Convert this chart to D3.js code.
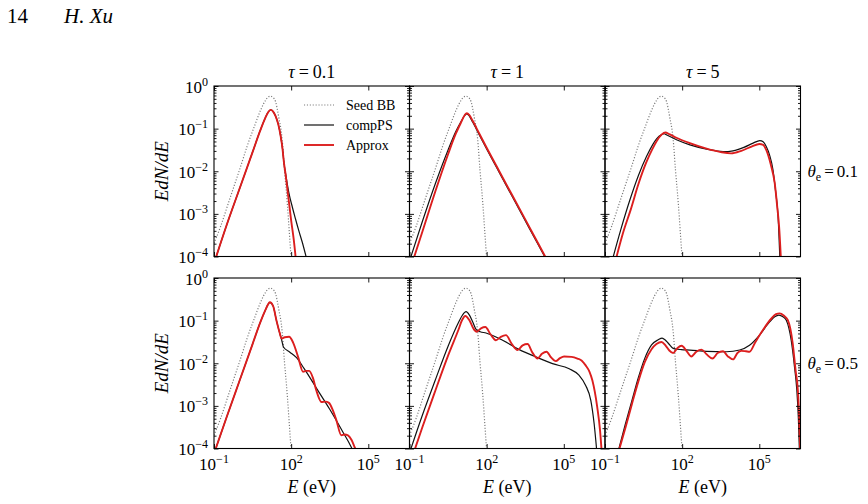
<!DOCTYPE html>
<html><head><meta charset="utf-8">
<script src="https://cdn.jsdelivr.net/npm/d3@7"></script>
<style>
body{margin:0;background:#fff;}
svg{display:block;}
svg text{font-family:"Liberation Serif","Times New Roman",Times,serif;fill:#000;}
</style>
</head><body>
<svg id="chart" width="868" height="504" font-family="Liberation Serif, Times New Roman, serif"></svg>
<script>
// ---------- labels / ticks ----------
const tauLabels = ["0.1", "1", "5"];
const thetaLabels = ["0.1", "0.5"];
const xTickValues = [0.1, 100, 1e5];
const xTickExps = ["\u22121", "2", "5"];
const yTickValues = [1, 0.1, 0.01, 0.001, 0.0001];
const yTickExps = ["0", "\u22121", "\u22122", "\u22123", "\u22124"];
const legendLabels = ["Seed BB", "compPS", "Approx"];

// ---------- data: [log10 E (eV), log10 EdN/dE] ----------
const seedBB = [[-1,-3.69],[-0.74,-3.29],[-0.48,-2.82],[-0.22,-2.35],[0.04,-1.88],[0.29,-1.41],[0.55,-0.98],[0.81,-0.57],[1.0,-0.34],[1.1,-0.26],[1.2,-0.24],[1.3,-0.27],[1.39,-0.36],[1.52,-0.74],[1.65,-1.25],[1.74,-1.96],[1.85,-2.75],[1.94,-3.53],[2.0,-4.05]];

// theta_e = 0.1
const compPS_tau01_th01 = [[-0.94,-4.05],[-0.5,-3.25],[0,-2.40],[0.5,-1.55],[0.8,-1.04],[1.0,-0.74],[1.1,-0.62],[1.2,-0.56],[1.3,-0.6],[1.39,-0.70],[1.5,-0.9],[1.59,-1.17],[1.66,-1.45],[1.72,-1.8],[1.79,-2.08],[1.85,-2.3],[1.91,-2.5],[2.05,-2.85],[2.17,-3.12],[2.3,-3.4],[2.43,-3.66],[2.6,-4.05]];
const approx_tau01_th01 = [[-0.94,-4.05],[-0.5,-3.25],[0,-2.40],[0.5,-1.55],[0.8,-1.04],[1.0,-0.74],[1.1,-0.62],[1.2,-0.56],[1.3,-0.6],[1.39,-0.70],[1.5,-0.9],[1.59,-1.17],[1.66,-1.45],[1.72,-1.8],[1.79,-2.1],[1.85,-2.4],[1.93,-2.8],[2.0,-3.15],[2.1,-3.6],[2.18,-4.05]];

const compPS_tau1_th01 = [[-0.97,-4.05],[-0.5,-3.18],[0,-2.3],[0.5,-1.5],[0.8,-1.07],[1.0,-0.84],[1.15,-0.69],[1.23,-0.655],[1.32,-0.7],[1.45,-0.84],[1.7,-1.13],[2,-1.48],[2.5,-2.04],[3,-2.6],[3.5,-3.16],[4,-3.72],[4.3,-4.05]];
const approx_tau1_th01 = [[-0.84,-4.05],[-0.5,-3.42],[0,-2.48],[0.5,-1.6],[0.8,-1.12],[1.0,-0.86],[1.15,-0.68],[1.23,-0.64],[1.32,-0.68],[1.45,-0.81],[1.7,-1.1],[2,-1.45],[2.5,-2.01],[3,-2.57],[3.5,-3.13],[4,-3.69],[4.32,-4.05]];

const compPS_tau5_th01 = [[-0.70,-4.05],[-0.4,-3.4],[-0.03,-2.67],[0.3,-2.1],[0.617,-1.65],[0.85,-1.38],[1.005,-1.24],[1.2,-1.14],[1.3,-1.12],[1.4,-1.15],[1.78,-1.26],[2.3,-1.38],[2.95,-1.48],[3.59,-1.54],[3.98,-1.52],[4.4,-1.44],[4.76,-1.34],[5.02,-1.28],[5.15,-1.31],[5.27,-1.42],[5.4,-1.62],[5.53,-1.96],[5.63,-2.45],[5.73,-3.06],[5.80,-4.05]];
const approx_tau5_th01 = [[-0.57,-4.05],[-0.3,-3.45],[0,-2.9],[0.3,-2.3],[0.6,-1.8],[0.85,-1.47],[1.0,-1.30],[1.2,-1.14],[1.35,-1.09],[1.5,-1.13],[1.8,-1.22],[2.3,-1.34],[2.95,-1.47],[3.5,-1.55],[3.9,-1.58],[4.3,-1.52],[4.7,-1.42],[5.0,-1.36],[5.15,-1.38],[5.27,-1.50],[5.45,-1.85],[5.6,-2.28],[5.7,-2.85],[5.77,-3.3],[5.84,-4.05]];

// theta_e = 0.5
const compPS_tau01_th05 = [[-0.96,-4.05],[-0.5,-3.25],[0,-2.40],[0.5,-1.55],[0.8,-1.04],[1.0,-0.75],[1.1,-0.62],[1.17,-0.57],[1.3,-0.66],[1.43,-1.0],[1.55,-1.28],[1.63,-1.45],[1.70,-1.62],[1.95,-1.74],[2.21,-1.87],[2.5,-2.12],[3.0,-2.6],[3.5,-3.08],[4.0,-3.6],[4.34,-3.97],[4.4,-4.05]];
const approx_tau01_th05 = [[-0.96,-4.05],[-0.5,-3.25],[0,-2.40],[0.5,-1.55],[0.8,-1.04],[1.0,-0.75],[1.1,-0.62],[1.17,-0.57],[1.3,-0.66],[1.43,-1.0],[1.55,-1.28],[1.63,-1.42],[1.75,-1.39],[1.92,-1.38],[2.08,-1.52],[2.27,-1.85],[2.46,-2.20],[2.58,-2.18],[2.70,-2.18],[2.85,-2.35],[2.98,-2.64],[3.18,-2.91],[3.33,-2.90],[3.47,-2.93],[3.62,-3.1],[3.76,-3.34],[3.95,-3.69],[4.08,-3.67],[4.21,-3.69],[4.35,-3.8],[4.47,-3.97],[4.56,-4.1]];

const compPS_tau1_th05 = [[-0.97,-4.05],[-0.5,-3.22],[0,-2.4],[0.5,-1.6],[0.9,-1.05],[1.05,-0.88],[1.2,-0.79],[1.33,-0.87],[1.45,-1.02],[1.61,-1.22],[1.75,-1.26],[1.975,-1.29],[2.62,-1.46],[3.27,-1.68],[3.91,-1.85],[4.56,-2.01],[5.21,-2.13],[5.59,-2.28],[5.85,-2.52],[6.05,-2.87],[6.18,-3.42],[6.28,-4.05]];
const approx_tau1_th05 = [[-0.81,-4.05],[-0.5,-3.5],[0,-2.65],[0.5,-1.82],[0.9,-1.22],[1.05,-0.98],[1.17,-0.89],[1.33,-0.99],[1.48,-1.18],[1.61,-1.26],[1.78,-1.18],[1.95,-1.15],[2.15,-1.32],[2.36,-1.46],[2.55,-1.38],[2.75,-1.34],[2.98,-1.55],[3.20,-1.69],[3.40,-1.58],[3.59,-1.55],[3.78,-1.75],[3.98,-1.89],[4.15,-1.78],[4.33,-1.73],[4.50,-1.86],[4.69,-1.95],[4.85,-1.88],[5.01,-1.84],[5.3,-1.85],[5.53,-1.89],[5.7,-1.94],[5.85,-2.05],[6.0,-2.2],[6.11,-2.40],[6.30,-3.03],[6.41,-3.58],[6.47,-4.05]];

const compPS_tau5_th05 = [[-0.48,-4.05],[-0.22,-3.45],[0.035,-2.90],[0.29,-2.35],[0.55,-1.88],[0.81,-1.57],[1.07,-1.45],[1.22,-1.41],[1.35,-1.46],[1.46,-1.53],[1.65,-1.65],[1.97,-1.68],[2.3,-1.69],[2.95,-1.72],[3.72,-1.73],[4.24,-1.69],[4.62,-1.58],[5.01,-1.34],[5.4,-1.03],[5.6,-0.91],[5.76,-0.87],[5.92,-0.91],[6.05,-0.99],[6.24,-1.46],[6.37,-2.09],[6.46,-2.64],[6.52,-3.3],[6.56,-4.05]];
const approx_tau5_th05 = [[-0.46,-4.05],[-0.2,-3.5],[0.05,-2.95],[0.3,-2.42],[0.55,-1.97],[0.81,-1.67],[1.0,-1.55],[1.2,-1.50],[1.35,-1.58],[1.5,-1.70],[1.65,-1.76],[1.82,-1.64],[1.98,-1.59],[2.18,-1.72],[2.36,-1.84],[2.55,-1.73],[2.75,-1.68],[2.95,-1.79],[3.18,-1.89],[3.38,-1.76],[3.59,-1.72],[3.78,-1.84],[3.98,-1.91],[4.15,-1.76],[4.30,-1.71],[4.48,-1.72],[4.62,-1.73],[4.85,-1.5],[5.14,-1.22],[5.47,-0.95],[5.65,-0.85],[5.79,-0.83],[5.95,-0.88],[6.11,-0.99],[6.30,-1.54],[6.41,-2.16],[6.50,-2.64],[6.55,-3.3],[6.59,-4.05]];

const panels = [
  [compPS_tau01_th01, approx_tau01_th01], [compPS_tau1_th01, approx_tau1_th01], [compPS_tau5_th01, approx_tau5_th01],
  [compPS_tau01_th05, approx_tau01_th05], [compPS_tau1_th05, approx_tau1_th05], [compPS_tau5_th05, approx_tau5_th05]
];

// ---------- layout ----------
const FONT = "Liberation Serif, Times New Roman, serif";
const colLeft = [214, 409.5, 605], W = 195.5;
const rowTop = [86, 278], H = 170.5;
const RED = "#dc1e1e", GRAY = "#7a7a7a";

const svg = d3.select("#chart");
const x = d3.scaleLog().domain([0.1, 4e6]).range([0, W]);
const y = d3.scaleLog().domain([1e-4, 1]).range([H, 0]);
const line = d3.line().x(d => x(Math.pow(10, d[0]))).y(d => y(Math.pow(10, d[1]))).curve(d3.curveMonotoneX);

const minorY = [];
[1e-4, 1e-3, 1e-2, 1e-1].forEach(b => { for (let k = 2; k <= 9; k++) minorY.push(b * k); });

svg.append("defs").append("clipPath").attr("id", "clip")
  .append("rect").attr("x", 0).attr("y", 0).attr("width", W).attr("height", H);

function txt(parent) { return parent.append("text").attr("font-family", FONT); }
function sup(sel, base, exp, fs) {
  sel.append("tspan").text(base);
  sel.append("tspan").attr("dy", -7).attr("font-size", fs).text(exp);
}

panels.forEach((pd, i) => {
  const r = Math.floor(i / 3), c = i % 3;
  const g = svg.append("g").attr("transform", `translate(${colLeft[c]},${rowTop[r]})`);
  const cg = g.append("g").attr("clip-path", "url(#clip)");
  cg.append("path").attr("d", line(seedBB)).attr("fill", "none").attr("stroke", GRAY)
    .attr("stroke-width", 1.2).attr("stroke-dasharray", "1.1,1.8");
  cg.append("path").attr("d", line(pd[0])).attr("fill", "none").attr("stroke", "#111").attr("stroke-width", 1.2);
  cg.append("path").attr("d", line(pd[1])).attr("fill", "none").attr("stroke", RED).attr("stroke-width", 1.9);

  // ticks (inward) via d3 axes
  const yMaj = (ax) => ax.tickValues(yTickValues).tickFormat("").tickSizeOuter(0);
  const yMin = (ax) => ax.tickValues(minorY).tickFormat("").tickSizeOuter(0);
  const addAx = (axis, tr) => {
    const a = g.append("g").attr("transform", tr).call(axis);
    a.select(".domain").remove();
    a.selectAll("line").attr("stroke", "#000").attr("stroke-width", 0.9);
  };
  addAx(yMaj(d3.axisLeft(y)).tickSizeInner(-4.5), "translate(0,0)");
  addAx(yMin(d3.axisLeft(y)).tickSizeInner(-2.5), "translate(0,0)");
  addAx(yMaj(d3.axisRight(y)).tickSizeInner(-4.5), `translate(${W},0)`);
  addAx(yMin(d3.axisRight(y)).tickSizeInner(-2.5), `translate(${W},0)`);
  addAx(d3.axisTop(x).tickValues(xTickValues).tickFormat("").tickSizeOuter(0).tickSizeInner(-4.5), "translate(0,0)");
  addAx(d3.axisBottom(x).tickValues(xTickValues).tickFormat("").tickSizeOuter(0).tickSizeInner(-4.5), `translate(0,${H})`);

  g.append("rect").attr("width", W).attr("height", H).attr("fill", "none").attr("stroke", "#000").attr("stroke-width", 1.1);

  if (c === 0) {
    yTickValues.forEach((v, k) => {
      const t = txt(g).attr("x", -6).attr("y", y(v) + 6.5).attr("text-anchor", "end").attr("font-size", 17);
      sup(t, "10", yTickExps[k], 12);
    });
    txt(g).attr("transform", `translate(-46,${H / 2}) rotate(-90)`).attr("text-anchor", "middle")
      .attr("font-size", 19).attr("font-style", "italic").text("EdN/dE");
  }
  if (r === 1) {
    xTickValues.forEach((v, k) => {
      const t = txt(g).attr("x", x(v)).attr("y", H + 21.5).attr("text-anchor", "middle").attr("font-size", 17);
      sup(t, "10", xTickExps[k], 12);
    });
    const xl = txt(g).attr("x", W / 2).attr("y", H + 44.5).attr("text-anchor", "middle").attr("font-size", 18);
    xl.append("tspan").attr("font-style", "italic").text("E");
    xl.append("tspan").text(" (eV)");
  }
  if (r === 0) {
    const t = txt(g).attr("x", W / 2).attr("y", -8).attr("text-anchor", "middle").attr("font-size", 18);
    t.append("tspan").attr("font-style", "italic").text("\u03c4");
    t.append("tspan").attr("dx", 4).text("=");
    t.append("tspan").attr("dx", 4).text(tauLabels[c]);
  }
  if (c === 2) {
    const t = txt(g).attr("x", W + 7).attr("y", H / 2 + 6).attr("font-size", 17);
    t.append("tspan").attr("font-style", "italic").text("\u03b8");
    t.append("tspan").attr("dy", 4).attr("font-size", 12).text("e");
    t.append("tspan").attr("dy", -4).attr("dx", 3).text("=");
    t.append("tspan").attr("dx", 3).text(thetaLabels[r]);
  }
  if (i === 0) {
    const styles = [
      {stroke: GRAY, w: 1.2, dash: "1.1,1.8"},
      {stroke: "#111", w: 1.2, dash: null},
      {stroke: RED, w: 1.9, dash: null}
    ];
    legendLabels.forEach((lab, k) => {
      const ly = 19 + k * 20;
      g.append("line").attr("x1", 90).attr("x2", 120).attr("y1", ly).attr("y2", ly)
        .attr("stroke", styles[k].stroke).attr("stroke-width", styles[k].w).attr("stroke-dasharray", styles[k].dash);
      txt(g).attr("x", 132).attr("y", ly + 5).attr("font-size", 14).text(lab);
    });
  }
});

// page header
txt(svg).attr("x", 7).attr("y", 23).attr("font-size", 21).text("14");
txt(svg).attr("x", 64).attr("y", 23).attr("font-size", 21).attr("font-style", "italic").text("H. Xu");
</script>
</body></html>
